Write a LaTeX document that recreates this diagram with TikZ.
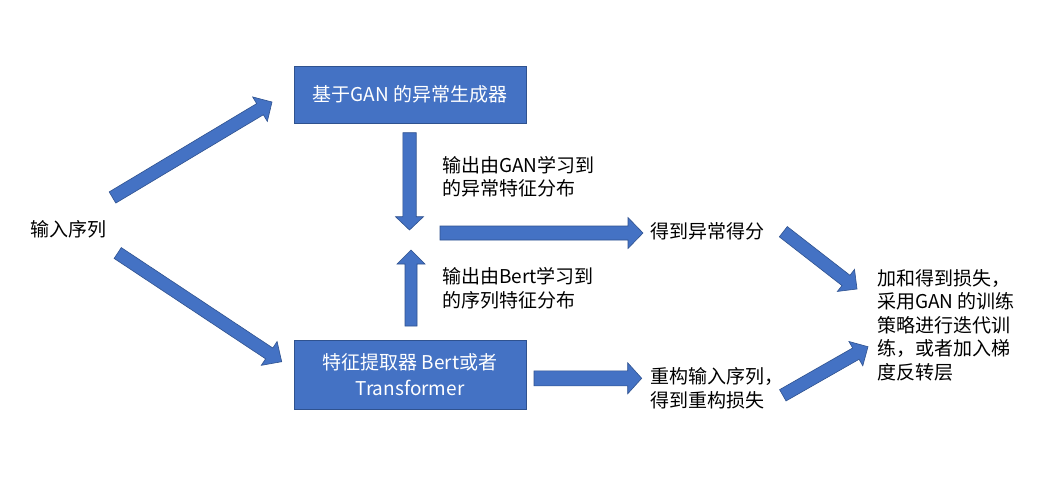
\documentclass[tikz,border=0pt]{standalone}
\usepackage{fontspec}
\setmainfont{Noto Sans CJK SC}
\usetikzlibrary{calc}
\definecolor{boxblue}{HTML}{4472C4}
\definecolor{boxedge}{HTML}{2F528F}
\newcommand\blockarr[5]{%
  \coordinate (hb) at ($(#2)!#5!(#1)$);
  \filldraw[arr] ($(#1)!#3!90:(#2)$) -- ($(hb)!#3!90:(#2)$) -- ($(hb)!#4!90:(#2)$) -- (#2)
    -- ($(hb)!#4!-90:(#2)$) -- ($(hb)!#3!-90:(#2)$) -- ($(#1)!#3!-90:(#2)$) -- cycle;}
\begin{document}
\begin{tikzpicture}[x=1pt,y=-1pt,
  lbl/.style={font=\fontsize{19}{23.5}\selectfont, inner sep=0pt, anchor=west, align=left},
  bluebox/.style={draw=boxedge, line width=1pt, fill=boxblue, text=white,
    font=\fontsize{19}{26}\selectfont, align=center, inner sep=0pt, minimum width=232pt},
  arr/.style={fill=boxblue, draw=boxedge, line width=0.6pt}]
\useasboundingbox (0,0) rectangle (1041,482);
\fill[white] (0,0) rectangle (1041,482);
% boxes
\node[bluebox, minimum height=57pt] (gen) at (410,94.5) {基于GAN 的异常生成器};
\node[bluebox, minimum height=69pt] (feat) at (410,374.5) {特征提取器 Bert或者\\Transformer};
% labels
\node[lbl] (inp) at (30,229) {输入序列};
\node[lbl] (ganout) at (442,176.7) {输出由GAN学习到\\的异常特征分布};
\node[lbl] (bertout) at (442,288.3) {输出由Bert学习到\\的序列特征分布};
\node[lbl] (score) at (650,231.7) {得到异常得分};
\node[lbl] (recon) at (650,388.3) {重构输入序列，\\得到重构损失};
\node[lbl] (loss) at (877,325) {加和得到损失，\\采用GAN 的训练\\策略进行迭代训\\练，或者加入梯\\度反转层};
% arrow end points
\coordinate (a1t) at (112.5,197.5); \coordinate (a1h) at (272,102);
\coordinate (a2t) at (117.7,253);   \coordinate (a2h) at (281.7,361.7);
\coordinate (a3t) at (409.5,132.7); \coordinate (a3h) at (409.5,230);
\coordinate (a4t) at (411,326);     \coordinate (a4h) at (411,250);
\coordinate (a5t) at (440,233);     \coordinate (a5h) at (643,233);
\coordinate (a6t) at (534,378.3);   \coordinate (a6h) at (641.7,378.3);
\coordinate (a7t) at (783.3,231.7); \coordinate (a7h) at (857,289);
\coordinate (a8t) at (782.8,395.3); \coordinate (a8h) at (868,346.7);
\blockarr{a1t}{a1h}{6.5pt}{14.3pt}{14pt}
\blockarr{a2t}{a2h}{6.5pt}{14.3pt}{15pt}
\blockarr{a3t}{a3h}{6.7pt}{14pt}{13.3pt}
\blockarr{a4t}{a4h}{6pt}{14pt}{14pt}
\blockarr{a5t}{a5h}{7pt}{15.5pt}{15pt}
\blockarr{a6t}{a6h}{7.5pt}{15.5pt}{14pt}
\blockarr{a7t}{a7h}{6.5pt}{14pt}{14pt}
\blockarr{a8t}{a8h}{6.5pt}{14pt}{14pt}
\end{tikzpicture}
\end{document}
